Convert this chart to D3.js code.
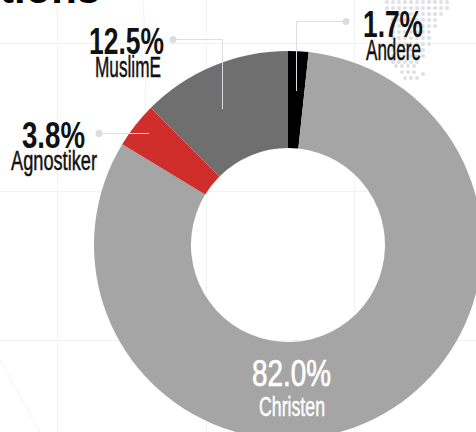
<!DOCTYPE html>
<html><head><meta charset="utf-8">
<script src="https://cdn.jsdelivr.net/npm/d3@7"></script>
<style>html,body{margin:0;padding:0;background:#fff}svg{display:block}text{font-family:"Liberation Sans","Roboto",sans-serif;}</style>
</head><body><svg id="c" width="476" height="432"></svg>
<script>
const categories=["Andere","Christen","Agnostiker","MuslimE"];
const values=[1.7,82.0,3.8,12.5];
const colors=["#000000","#a5a5a5","#cf2e2a","#6f6f6f"];
const valueLabels=["1.7%","82.0%","3.8%","12.5%"];
const titleFragment="tions";
// dot-map rows: y, first x, last x
const dotRows=[[2,387,447],[8,387,447],[14,387,441],[20,393,435],[26,393,435],[32,393,429],[38,393,429],[44,393,429],[50,393,423],[56,393,423],[62,393,417],[66,396,414],[72,402,414],[78,405,417]];
const extraDots=[[423,74]];
const svg=d3.select("#c");
const grid=svg.append("g").attr("stroke","#f3f3f5").attr("fill","none");
[57.5,206.5,354.5].forEach(x=>grid.append("line").attr("x1",x).attr("x2",x).attr("y1",0).attr("y2",432));
[43.5,191.5,340.5].forEach(y=>grid.append("line").attr("x1",0).attr("x2",476).attr("y1",y).attr("y2",y));
grid.append("path").attr("d","M143 0Q147 60 145 110");
grid.append("path").attr("d","M0 360L40 432");
const dots=svg.append("g").attr("fill","#dfdfe6");
dotRows.forEach(([y,a,b])=>d3.range(a,b+1,6).forEach(x=>dots.append("circle").attr("cx",x).attr("cy",y).attr("r",2)));
extraDots.forEach(([x,y])=>dots.append("circle").attr("cx",x).attr("cy",y).attr("r",2));
const pie=d3.pie().sort(null).value(d=>d);
const arc=d3.arc().innerRadius(97).outerRadius(194);
const g=svg.append("g").attr("transform","translate(288,245)");
g.selectAll("path").data(pie(values)).join("path").attr("d",arc).attr("fill",(d,i)=>colors[i]);
function t(x,y,s,size,w,fill,weight,sw){const e=svg.append("text").attr("x",x).attr("y",y).attr("font-size",size).attr("font-weight",weight||"normal").attr("fill",fill||"#111").attr("textLength",w).attr("lengthAdjust","spacingAndGlyphs").text(s);if(sw)e.attr("stroke",fill).attr("stroke-width",sw);}
t(0,3,titleFragment,42,100,"#000","bold");
t(89,54,valueLabels[3],37,75,"#111","bold");
t(95,77,categories[3],29,66,"#111","normal",0.5);
t(22,148,valueLabels[2],37,63,"#111","bold");
t(11,170,categories[2],27,86,"#111","normal",0.5);
t(363,37,valueLabels[0],37,60,"#111","bold");
t(366,60,categories[0],29,55,"#111","normal",0.5);
t(252,386,valueLabels[1],37,79,"#fff","normal",0.7);
t(259,416,categories[1],27,66,"#fff","normal",0.5);
const lead=svg.append("g").attr("fill","none").attr("stroke","#dcdce2").attr("stroke-width",1);
lead.append("path").attr("d","M173 39.5H222.5V109");
lead.append("path").attr("d","M99 133.5H149");
lead.append("path").attr("d","M346 21.5H296.5V91");
[[173,39.5],[99,133.5],[346,21.5]].forEach(p=>svg.append("circle").attr("cx",p[0]).attr("cy",p[1]).attr("r",3.5).attr("fill","#dcdce2"));
</script></body></html>
